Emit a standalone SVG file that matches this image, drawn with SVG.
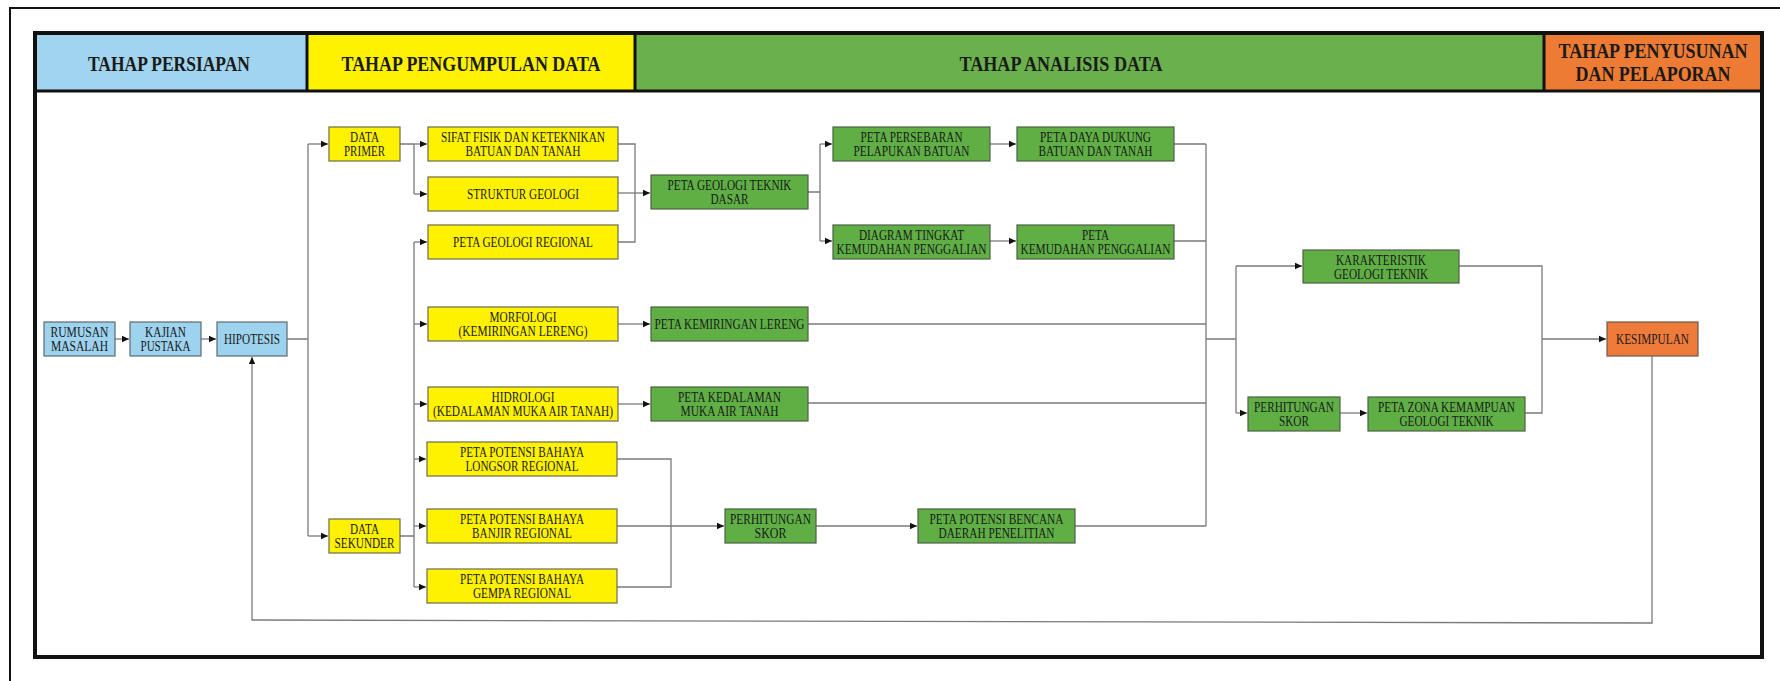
<svg xmlns="http://www.w3.org/2000/svg" width="1780" height="681" viewBox="0 0 1780 681">
<style>
.frame{fill:none;stroke:#111;}
.b{fill:#9dd3ee;stroke:#5d6a70;stroke-width:1.2;}
.y{fill:#fff200;stroke:#6b6b50;stroke-width:1.2;}
.g{fill:#5faf45;stroke:#4f5f48;stroke-width:1.2;}
.o{fill:#ef7b3b;stroke:#6b5a50;stroke-width:1.2;}
.h{font-family:"Liberation Serif",serif;font-weight:bold;font-size:20px;fill:#1a1a1a;text-anchor:middle;}
.t{font-family:"Liberation Serif",serif;font-size:14px;fill:#1a1a1a;text-anchor:middle;}
.c{fill:none;stroke:#7a7a7a;stroke-width:1.3;}
</style>
<defs>
<marker id="ar" markerUnits="userSpaceOnUse" markerWidth="8" markerHeight="8" refX="7" refY="4" orient="auto">
<path d="M0,0.8 L7,4 L0,7.2 Z" fill="#111"/>
</marker>
</defs>
<rect width="1780" height="681" fill="#fff"/>
<path d="M10,681 V8 H1780" class="frame" stroke-width="2"/>
<g id="header">
<rect x="35" y="33" width="272" height="58" fill="#a1d4ee"/>
<rect x="307" y="33" width="328" height="58" fill="#fff200"/>
<rect x="635" y="33" width="909" height="58" fill="#6ab04c"/>
<rect x="1544" y="33" width="218" height="58" fill="#ed7b33"/>
<path d="M35,91 H1762 M307,33 V91 M635,33 V91 M1544,33 V91" class="frame" stroke-width="3"/>
<text class="h" x="169" y="71" textLength="162" lengthAdjust="spacingAndGlyphs">TAHAP PERSIAPAN</text>
<text class="h" x="471" y="71" textLength="259" lengthAdjust="spacingAndGlyphs">TAHAP PENGUMPULAN DATA</text>
<text class="h" x="1061" y="71" textLength="203" lengthAdjust="spacingAndGlyphs">TAHAP ANALISIS DATA</text>
<text class="h" x="1653" y="58" textLength="189" lengthAdjust="spacingAndGlyphs">TAHAP PENYUSUNAN</text>
<text class="h" x="1653" y="81" textLength="155" lengthAdjust="spacingAndGlyphs">DAN PELAPORAN</text>
</g>
<rect x="35" y="33" width="1727" height="624" class="frame" stroke-width="4"/>

<g id="connectors">
<path class="c" d="M115,339 H129" marker-end="url(#ar)"/>
<path class="c" d="M201,339 H216" marker-end="url(#ar)"/>
<path class="c" d="M287,339 H308 M308,144 V536"/>
<path class="c" d="M308,144 H328" marker-end="url(#ar)"/>
<path class="c" d="M308,536 H328" marker-end="url(#ar)"/>
<path class="c" d="M400,144 H414 M414,144 V194"/>
<path class="c" d="M414,144 H427" marker-end="url(#ar)"/>
<path class="c" d="M414,194 H427" marker-end="url(#ar)"/>
<path class="c" d="M400,536 H414 M414,242 V587"/>
<path class="c" d="M414,242 H427" marker-end="url(#ar)"/>
<path class="c" d="M414,324 H427" marker-end="url(#ar)"/>
<path class="c" d="M414,404 H427" marker-end="url(#ar)"/>
<path class="c" d="M414,459 H426" marker-end="url(#ar)"/>
<path class="c" d="M414,526 H426" marker-end="url(#ar)"/>
<path class="c" d="M414,587 H426" marker-end="url(#ar)"/>
<path class="c" d="M618,144 H635 V242 H618"/>
<path class="c" d="M618,193 H650" marker-end="url(#ar)"/>
<path class="c" d="M808,192 H820 M820,144 V241"/>
<path class="c" d="M820,144 H832" marker-end="url(#ar)"/>
<path class="c" d="M820,241 H832" marker-end="url(#ar)"/>
<path class="c" d="M990,144 H1016" marker-end="url(#ar)"/>
<path class="c" d="M990,241 H1016" marker-end="url(#ar)"/>
<path class="c" d="M1174,144 H1206 M1174,241 H1206 M1206,144 V526"/>
<path class="c" d="M618,324 H650" marker-end="url(#ar)"/>
<path class="c" d="M808,324 H1206"/>
<path class="c" d="M618,404 H650" marker-end="url(#ar)"/>
<path class="c" d="M808,403 H1206"/>
<path class="c" d="M617,459 H671 V587 H617"/>
<path class="c" d="M617,526 H724" marker-end="url(#ar)"/>
<path class="c" d="M816,526 H917" marker-end="url(#ar)"/>
<path class="c" d="M1075,526 H1206"/>
<path class="c" d="M1206,339 H1236 M1236,266 V413"/>
<path class="c" d="M1236,266 H1302" marker-end="url(#ar)"/>
<path class="c" d="M1236,413 H1247" marker-end="url(#ar)"/>
<path class="c" d="M1340,413 H1367" marker-end="url(#ar)"/>
<path class="c" d="M1459,266 H1542 V413 H1525"/>
<path class="c" d="M1542,339 H1606" marker-end="url(#ar)"/>
<path class="c" d="M1652,356 V623 L252,620 V357" marker-end="url(#ar)"/>
</g>

<g id="n-rumusan"><rect class="b" x="44" y="322" width="71" height="34"/>
<text class="t" x="79.5" y="337" textLength="58" lengthAdjust="spacingAndGlyphs">RUMUSAN</text>
<text class="t" x="79.5" y="351" textLength="57" lengthAdjust="spacingAndGlyphs">MASALAH</text></g>
<g id="n-kajian"><rect class="b" x="130" y="322" width="71" height="34"/>
<text class="t" x="165.5" y="337" textLength="41" lengthAdjust="spacingAndGlyphs">KAJIAN</text>
<text class="t" x="165.5" y="351" textLength="50" lengthAdjust="spacingAndGlyphs">PUSTAKA</text></g>
<g id="n-hipotesis"><rect class="b" x="217" y="322" width="70" height="34"/>
<text class="t" x="252" y="344" textLength="56" lengthAdjust="spacingAndGlyphs">HIPOTESIS</text></g>

<g id="n-primer"><rect class="y" x="329" y="127" width="71" height="34"/>
<text class="t" x="364.5" y="142" textLength="29" lengthAdjust="spacingAndGlyphs">DATA</text>
<text class="t" x="364.5" y="156" textLength="41" lengthAdjust="spacingAndGlyphs">PRIMER</text></g>
<g id="n-sekunder"><rect class="y" x="329" y="519" width="71" height="34"/>
<text class="t" x="364.5" y="534" textLength="29" lengthAdjust="spacingAndGlyphs">DATA</text>
<text class="t" x="364.5" y="548" textLength="60" lengthAdjust="spacingAndGlyphs">SEKUNDER</text></g>

<g id="n-sifat"><rect class="y" x="428" y="127" width="190" height="34"/>
<text class="t" x="523" y="142" textLength="164" lengthAdjust="spacingAndGlyphs">SIFAT FISIK DAN KETEKNIKAN</text>
<text class="t" x="523" y="156" textLength="115" lengthAdjust="spacingAndGlyphs">BATUAN DAN TANAH</text></g>
<g id="n-struktur"><rect class="y" x="428" y="177" width="190" height="34"/>
<text class="t" x="523" y="199" textLength="112" lengthAdjust="spacingAndGlyphs">STRUKTUR GEOLOGI</text></g>
<g id="n-pgr"><rect class="y" x="428" y="225" width="190" height="34"/>
<text class="t" x="523" y="247" textLength="140" lengthAdjust="spacingAndGlyphs">PETA GEOLOGI REGIONAL</text></g>
<g id="n-morfologi"><rect class="y" x="428" y="307" width="190" height="34"/>
<text class="t" x="523" y="322" textLength="67" lengthAdjust="spacingAndGlyphs">MORFOLOGI</text>
<text class="t" x="523" y="336" textLength="129" lengthAdjust="spacingAndGlyphs">(KEMIRINGAN LERENG)</text></g>
<g id="n-hidrologi"><rect class="y" x="428" y="387" width="190" height="34"/>
<text class="t" x="523" y="402" textLength="63" lengthAdjust="spacingAndGlyphs">HIDROLOGI</text>
<text class="t" x="523" y="416" textLength="180" lengthAdjust="spacingAndGlyphs">(KEDALAMAN MUKA AIR TANAH)</text></g>
<g id="n-longsor"><rect class="y" x="427" y="442" width="190" height="34"/>
<text class="t" x="522" y="457" textLength="124" lengthAdjust="spacingAndGlyphs">PETA POTENSI BAHAYA</text>
<text class="t" x="522" y="471" textLength="113" lengthAdjust="spacingAndGlyphs">LONGSOR REGIONAL</text></g>
<g id="n-banjir"><rect class="y" x="427" y="509" width="190" height="34"/>
<text class="t" x="522" y="524" textLength="124" lengthAdjust="spacingAndGlyphs">PETA POTENSI BAHAYA</text>
<text class="t" x="522" y="538" textLength="100" lengthAdjust="spacingAndGlyphs">BANJIR REGIONAL</text></g>
<g id="n-gempa"><rect class="y" x="427" y="569" width="190" height="34"/>
<text class="t" x="522" y="584" textLength="124" lengthAdjust="spacingAndGlyphs">PETA POTENSI BAHAYA</text>
<text class="t" x="522" y="598" textLength="98" lengthAdjust="spacingAndGlyphs">GEMPA REGIONAL</text></g>

<g id="n-pgtd"><rect class="g" x="651" y="175" width="157" height="34"/>
<text class="t" x="729.5" y="190" textLength="124" lengthAdjust="spacingAndGlyphs">PETA GEOLOGI TEKNIK</text>
<text class="t" x="729.5" y="204" textLength="38" lengthAdjust="spacingAndGlyphs">DASAR</text></g>
<g id="n-persebaran"><rect class="g" x="833" y="127" width="157" height="34"/>
<text class="t" x="911.5" y="142" textLength="102" lengthAdjust="spacingAndGlyphs">PETA PERSEBARAN</text>
<text class="t" x="911.5" y="156" textLength="116" lengthAdjust="spacingAndGlyphs">PELAPUKAN BATUAN</text></g>
<g id="n-dayadukung"><rect class="g" x="1017" y="127" width="157" height="34"/>
<text class="t" x="1095.5" y="142" textLength="111" lengthAdjust="spacingAndGlyphs">PETA DAYA DUKUNG</text>
<text class="t" x="1095.5" y="156" textLength="114" lengthAdjust="spacingAndGlyphs">BATUAN DAN TANAH</text></g>
<g id="n-diagram"><rect class="g" x="833" y="225" width="157" height="34"/>
<text class="t" x="911.5" y="240" textLength="105" lengthAdjust="spacingAndGlyphs">DIAGRAM TINGKAT</text>
<text class="t" x="911.5" y="254" textLength="150" lengthAdjust="spacingAndGlyphs">KEMUDAHAN PENGGALIAN</text></g>
<g id="n-kemudahan"><rect class="g" x="1017" y="225" width="157" height="34"/>
<text class="t" x="1095.5" y="240" textLength="27" lengthAdjust="spacingAndGlyphs">PETA</text>
<text class="t" x="1095.5" y="254" textLength="150" lengthAdjust="spacingAndGlyphs">KEMUDAHAN PENGGALIAN</text></g>
<g id="n-kemiringan"><rect class="g" x="651" y="307" width="157" height="34"/>
<text class="t" x="729.5" y="329" textLength="150" lengthAdjust="spacingAndGlyphs">PETA KEMIRINGAN LERENG</text></g>
<g id="n-kedalaman"><rect class="g" x="651" y="387" width="157" height="34"/>
<text class="t" x="729.5" y="402" textLength="103" lengthAdjust="spacingAndGlyphs">PETA KEDALAMAN</text>
<text class="t" x="729.5" y="416" textLength="98" lengthAdjust="spacingAndGlyphs">MUKA AIR TANAH</text></g>
<g id="n-skor1"><rect class="g" x="725" y="509" width="91" height="34"/>
<text class="t" x="770.5" y="524" textLength="81" lengthAdjust="spacingAndGlyphs">PERHITUNGAN</text>
<text class="t" x="770.5" y="538" textLength="32" lengthAdjust="spacingAndGlyphs">SKOR</text></g>
<g id="n-bencana"><rect class="g" x="918" y="509" width="157" height="34"/>
<text class="t" x="996.5" y="524" textLength="134" lengthAdjust="spacingAndGlyphs">PETA POTENSI BENCANA</text>
<text class="t" x="996.5" y="538" textLength="116" lengthAdjust="spacingAndGlyphs">DAERAH PENELITIAN</text></g>
<g id="n-karakteristik"><rect class="g" x="1303" y="250" width="156" height="33"/>
<text class="t" x="1381" y="265" textLength="90" lengthAdjust="spacingAndGlyphs">KARAKTERISTIK</text>
<text class="t" x="1381" y="279" textLength="94" lengthAdjust="spacingAndGlyphs">GEOLOGI TEKNIK</text></g>
<g id="n-skor2"><rect class="g" x="1248" y="397" width="92" height="34"/>
<text class="t" x="1294" y="412" textLength="80" lengthAdjust="spacingAndGlyphs">PERHITUNGAN</text>
<text class="t" x="1294" y="426" textLength="30" lengthAdjust="spacingAndGlyphs">SKOR</text></g>
<g id="n-zona"><rect class="g" x="1368" y="397" width="157" height="34"/>
<text class="t" x="1446.5" y="412" textLength="137" lengthAdjust="spacingAndGlyphs">PETA ZONA KEMAMPUAN</text>
<text class="t" x="1446.5" y="426" textLength="94" lengthAdjust="spacingAndGlyphs">GEOLOGI TEKNIK</text></g>
<g id="n-kesimpulan"><rect class="o" x="1607" y="322" width="91" height="34"/>
<text class="t" x="1652.5" y="344" textLength="73" lengthAdjust="spacingAndGlyphs">KESIMPULAN</text></g>
</svg>
